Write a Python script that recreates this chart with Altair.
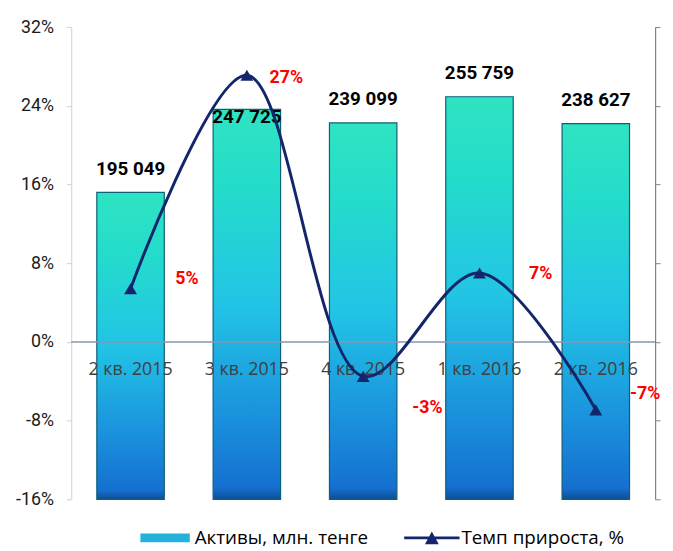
import altair as alt
import pandas as pd

# ---- data ----
categories = ["2 кв. 2015", "3 кв. 2015", "4 кв. 2015", "1 кв. 2016", "2 кв. 2016"]
assets = [195049, 247725, 239099, 255759, 238627]
asset_labels = ["195 049", "247 725", "239 099", "255 759", "238 627"]
growth = [5.4, 27.1, -3.5, 7.0, -6.9]
growth_labels = ["5%", "27%", "-3%", "7%", "-7%"]
legend_names = ["Активы, млн. тенге", "Темп прироста, %"]
pct_ticks = [-16, -8, 0, 8, 16, 24, 32]
asset_ticks = [0, 50000, 100000, 150000, 200000, 250000, 300000]
zero_level = [0]

df = pd.DataFrame({
    "cat": categories,
    "assets": assets,
    "alabel": asset_labels,
    "growth": growth,
    "glabel": growth_labels,
    "idx": list(range(len(categories))),
})

FONT = "Roboto"
TFONT = "Open Sans"
NAVY = "#14266b"

x_enc = alt.X("cat:N", sort=categories, axis=None,
              scale=alt.Scale(paddingInner=0.42, paddingOuter=0.22))

# ---- bar group (right axis) ----
bar_axis = alt.Axis(orient="right", values=asset_ticks, labels=False, title=None,
                    grid=False, domainColor="#808080", tickColor="#808080",
                    tickSize=5, domainWidth=1.2)
bar_y = alt.Y("assets:Q", scale=alt.Scale(domain=[0, 300000], nice=False), axis=bar_axis)

grad = alt.Gradient(
    gradient="linear", x1=0, x2=0, y1=0, y2=1,
    stops=[
        alt.GradientStop(offset=0.0, color="#2fe3c2"),
        alt.GradientStop(offset=0.2, color="#24dccb"),
        alt.GradientStop(offset=0.5, color="#22c4e6"),
        alt.GradientStop(offset=0.8, color="#1a8fdc"),
        alt.GradientStop(offset=0.97, color="#1570d0"),
        alt.GradientStop(offset=1.0, color="#0d4f96"),
    ],
)

base = alt.Chart(df)
bars = base.mark_bar(color=grad, stroke="#0e5f78", strokeWidth=1.2).encode(x=x_enc, y=bar_y)
bar_text = base.transform_filter(alt.datum.idx != 1).mark_text(
    dy=-24, font=FONT, fontSize=19, fontWeight="bold", color="#000000"
).encode(x=x_enc, y=bar_y, text="alabel:N")
bar_text2 = base.transform_filter(alt.datum.idx == 1).mark_text(
    dy=8, font=FONT, fontSize=19, fontWeight="bold", color="#000000"
).encode(x=x_enc, y=bar_y, text="alabel:N")
bar_group = alt.layer(bars, bar_text, bar_text2)

# ---- percent group (left axis) ----
pct_scale = alt.Scale(domain=[-16, 32], nice=False)
pct_axis = alt.Axis(orient="left", values=pct_ticks, labelExpr="datum.value + '%'",
                    title=None, grid=False, domainColor="#d0d0d0", tickColor="#d0d0d0",
                    tickSize=5, labelPadding=13, labelFont=FONT, labelFontSize=18,
                    labelColor="#1a1a1a")
pct_y = alt.Y("growth:Q", scale=pct_scale, axis=pct_axis)

zero_rule = alt.Chart(pd.DataFrame({"z": zero_level})).mark_rule(
    color="#8497b0", strokeWidth=1.5
).encode(y=alt.Y("z:Q", scale=pct_scale, axis=pct_axis))

cat_text = base.transform_calculate(base0="0").mark_text(
    dy=28, font=TFONT, fontSize=18, color="#404040"
).encode(x=x_enc, y=alt.Y("base0:Q", scale=pct_scale, axis=pct_axis), text="cat:N")

line = base.mark_line(interpolate="catmull-rom", color=NAVY, strokeWidth=3).encode(x=x_enc, y=pct_y)
points = base.mark_point(shape="triangle-up", filled=True, size=170, color=NAVY,
                         opacity=1).encode(x=x_enc, y=pct_y)

label_offsets = {0: (57, -10), 1: (40, 3), 2: (65, 32), 3: (62, 1), 4: (50, -16)}
pct_labels = []
for i, (ddx, ddy) in label_offsets.items():
    pct_labels.append(
        base.transform_filter(alt.datum.idx == i).mark_text(
            dx=ddx, dy=ddy, font=FONT, fontSize=18, fontWeight="bold", color="#ff0000"
        ).encode(x=x_enc, y=pct_y, text="glabel:N")
    )

rect_path = "M-2.5,-0.45H2.5V0.45H-2.5Z"
line_path = "M-2.8,-0.15H2.8V0.15H-2.8Z M-0.7,0.65L0,-0.65L0.7,0.65Z"
leg = alt.Legend(orient="none", legendX=85, legendY=507, direction="horizontal",
                 title=None, labelFont=TFONT, labelFontSize=19, labelColor="#000000",
                 labelLimit=400,
                 symbolSize=400, symbolOpacity=1, symbolStrokeWidth=0,
                 labelOffset=20, columnPadding=36, padding=0)
legend_df = df.head(2).assign(series=legend_names)
legend_layer = alt.Chart(legend_df).mark_point(opacity=0, filled=True).encode(
    x=x_enc, y=pct_y,
    color=alt.Color("series:N", scale=alt.Scale(domain=legend_names, range=["#22b2dc", NAVY]), legend=leg),
    shape=alt.Shape("series:N", scale=alt.Scale(domain=legend_names, range=[rect_path, line_path]), legend=leg),
)

pct_group = alt.layer(zero_rule, cat_text, line, points, *pct_labels, legend_layer)

chart = alt.layer(bar_group, pct_group).resolve_scale(y="independent").properties(
    width=591, height=478,
    autosize=alt.AutoSizeParams(type="none"),
    padding={"left": 64, "top": 16, "right": 10, "bottom": 50},
).configure_view(stroke=None)

chart.save("out.html", embed_options={"renderer": "svg", "actions": False})
